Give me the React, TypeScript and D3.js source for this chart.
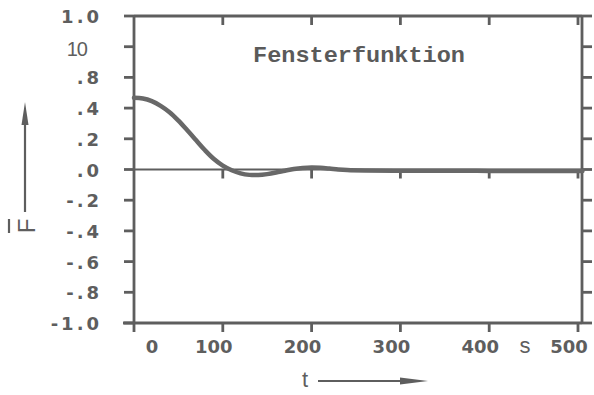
import React from "react";
import * as d3 from "d3";

// ---- data ----
const timeSeconds = [0, 10, 20, 30, 40, 50, 60, 70, 80, 90, 100, 110, 120, 130, 140, 150, 160, 170, 180, 190, 200, 210, 220, 230, 240, 260, 300, 350, 400, 450, 505];
const windowValues = [0.467, 0.462, 0.445, 0.415, 0.373, 0.318, 0.255, 0.19, 0.125, 0.068, 0.025, -0.005, -0.025, -0.035, -0.036, -0.03, -0.02, -0.008, 0.003, 0.01, 0.013, 0.011, 0.006, 0.0, -0.004, -0.007, -0.008, -0.008, -0.009, -0.01, -0.01];
const yTickValues = [1, 0.8, 0.6, 0.4, 0.2, 0, -0.2, -0.4, -0.6, -0.8, -1];
const yTickLabels = ["1.0", "10", ".8", ".4", ".2", ".0", "-.2", "-.4", "-.6", "-.8", "-1.0"];
const xTickValues = [0, 100, 200, 300, 400, 500];
const xTickLabels = ["0", "100", "200", "300", "400", "500"];
const titleText = "Fensterfunktion";
const xUnit = "s";
const xTitle = "t";
const yTitle = "F";

const W = 594;
const H = 395;
const INK = "#5e5e5e";

export default function App() {
  const x = d3.scaleLinear().domain([0, 500]).range([134, 578]);
  const y = d3.scaleLinear().domain([-1, 1]).range([323, 16]);
  const left = 134;
  const right = 582;
  const top = y(1);
  const bottom = y(-1);
  const zero = y(0);

  const line = d3
    .line<number>()
    .x((_, i) => x(timeSeconds[i]))
    .y((d) => y(d))
    .curve(d3.curveCatmullRom.alpha(0.5));

  const boldFont = "'DejaVu Sans', sans-serif";

  return (
    <svg
      width={W}
      height={H}
      viewBox={`0 0 ${W} ${H}`}
      style={{ position: "absolute", left: 0, top: 0, background: "#fff" }}
    >
      <rect x={0} y={0} width={W} height={H} fill="#fff" />

      {/* frame */}
      <line x1={left} x2={right} y1={top} y2={top} stroke={INK} strokeWidth={2.8} />
      <line x1={right} x2={right} y1={top} y2={bottom} stroke={INK} strokeWidth={2.8} />
      <line x1={left} x2={left} y1={top} y2={bottom + 9} stroke={INK} strokeWidth={2.8} />
      <line x1={left - 11} x2={right} y1={bottom} y2={bottom} stroke={INK} strokeWidth={2.8} />

      {/* zero line */}
      <line x1={left} x2={right} y1={zero} y2={zero} stroke={INK} strokeWidth={2.2} />

      {/* y ticks left (outward) and right (outward) */}
      {yTickValues.map((v) => (
        <g key={`yt${v}`}>
          <line x1={left - 10} x2={left} y1={y(v)} y2={y(v)} stroke={INK} strokeWidth={2.8} />
          <line x1={right} x2={right + 10} y1={y(v)} y2={y(v)} stroke={INK} strokeWidth={2.8} />
        </g>
      ))}

      {/* x ticks: bottom outward, top inward, on zero line downward */}
      {xTickValues.filter((v) => v > 0).map((v) => (
        <g key={`xt${v}`}>
          <line x1={x(v)} x2={x(v)} y1={bottom} y2={bottom + 9} stroke={INK} strokeWidth={2.8} />
          <line x1={x(v)} x2={x(v)} y1={top} y2={top + 9} stroke={INK} strokeWidth={2.8} />
          <line x1={x(v)} x2={x(v)} y1={zero} y2={zero + 9} stroke={INK} strokeWidth={2.8} />
        </g>
      ))}

      {/* curve */}
      <path
        d={line(windowValues) || ""}
        fill="none"
        stroke="#686868"
        strokeWidth={4.5}
        strokeLinecap="round"
      />

      {/* y tick labels */}
      {yTickValues.map((v, i) =>
        yTickLabels[i] === "10" ? (
          <text
            key={`yl${v}`}
            x={87}
            y={y(v) + 9}
            textAnchor="end"
            fontFamily="'Liberation Sans', sans-serif"
            fontSize={20}
            fill={INK}
            letterSpacing={-1}
          >
            {yTickLabels[i]}
          </text>
        ) : (
          <text
            key={`yl${v}`}
            x={102}
            y={y(v) + 7}
            textAnchor="end"
            fontFamily={boldFont}
            fontWeight="bold"
            fontSize={18}
            letterSpacing={3}
            fill={INK}
          >
            {yTickLabels[i]}
          </text>
        )
      )}

      {/* x tick labels */}
      {xTickValues.map((v, i) => (
        <text
          key={`xl${v}`}
          x={v === 0 ? x(v) + 18 : x(v) - 9}
          y={353}
          textAnchor="middle"
          fontFamily={boldFont}
          fontWeight="bold"
          fontSize={18}
          fill={INK}
        >
          {xTickLabels[i]}
        </text>
      ))}
      <text
        x={525}
        y={353}
        textAnchor="middle"
        fontFamily="'Liberation Sans', sans-serif"
        fontSize={22}
        fill={INK}
      >
        {xUnit}
      </text>

      {/* x title with arrow */}
      <text
        x={305}
        y={387}
        textAnchor="middle"
        fontFamily="'Liberation Sans', sans-serif"
        fontSize={22}
        fill={INK}
      >
        {xTitle}
      </text>
      <line x1={318} x2={408} y1={381} y2={381} stroke={INK} strokeWidth={2.2} />
      <path d="M 400 377.5 L 428 381 L 400 384.5 Z" fill={INK} />

      {/* y title with arrow */}
      <line x1={25} x2={25} y1={124} y2={212} stroke={INK} strokeWidth={2.2} />
      <path d="M 21.5 125 L 25 102 L 28.5 125 Z" fill={INK} />
      <text
        transform="translate(35,226) rotate(-90)"
        textAnchor="middle"
        fontFamily="'Liberation Sans', sans-serif"
        fontSize={24}
        fill={INK}
      >
        {yTitle}
      </text>
      <line x1={9} x2={9} y1={219} y2={233} stroke={INK} strokeWidth={2.2} />

      {/* title */}
      <text
        x={253}
        y={62}
        fontFamily="'Liberation Mono', 'DejaVu Sans Mono', monospace"
        fontWeight="bold"
        fontSize={22}
        textLength={212}
        lengthAdjust="spacingAndGlyphs"
        fill="#5a5a5a"
      >
        {titleText}
      </text>
    </svg>
  );
}
